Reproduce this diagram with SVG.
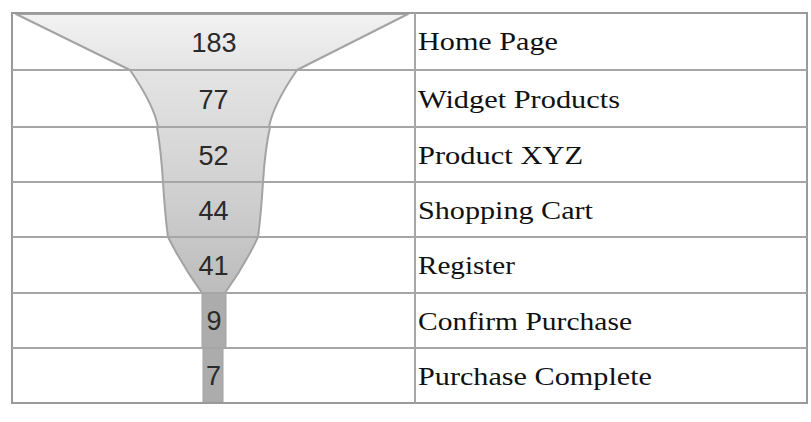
<svg xmlns="http://www.w3.org/2000/svg" width="811" height="422" viewBox="0 0 811 422">
<defs>
<linearGradient id="fg" gradientUnits="userSpaceOnUse" x1="0" y1="14" x2="0" y2="293">
<stop offset="0" stop-color="#f2f2f2"/>
<stop offset="0.2" stop-color="#e4e4e4"/>
<stop offset="0.6" stop-color="#d2d2d2"/>
<stop offset="1" stop-color="#bcbcbc"/>
</linearGradient>
<style>
.seg{fill:url(#fg);stroke:#a3a3a3;stroke-width:2;stroke-linejoin:round}
.bar{fill:#acacac;stroke:#a3a3a3;stroke-width:1}
.grid{stroke:#a6a6a6;stroke-width:2;fill:none}
.outer{stroke:#9a9a9a;stroke-width:2;fill:none}
.num{font-family:"Liberation Sans",Arial,sans-serif;font-size:27px;fill:#2a2a2a;text-anchor:middle}
.lbl{font-family:"Liberation Serif","Times New Roman",serif;font-size:25px;fill:#111}
</style>
</defs>
<rect x="0" y="0" width="811" height="422" fill="#ffffff"/>
<g id="funnel">
<path class="seg" d="M16,14 L408,14 L297,70 L130,70 Z"/>
<path class="seg" d="M130,70 L297,70 Q273,105 269,127 L158,127 Q154,105 130,70 Z"/>
<path class="seg" d="M157,127 L270,127 Q265,150 263,182 L163,182 Q161,150 157,127 Z"/>
<path class="seg" d="M163,182 L263,182 Q261,215 258,237 L168,237 Q165,215 163,182 Z"/>
<path class="seg" d="M168,237 L258,237 Q245,265 225,293 L202,293 Q182,265 168,237 Z"/>
<rect class="bar" x="202" y="293" width="24" height="55"/>
<rect class="bar" x="203" y="348" width="20" height="54"/>
</g>
<g id="connectors">
<rect class="outer" x="12" y="13" width="795" height="390"/>
<line class="grid" x1="415" y1="13" x2="415" y2="403"/>
<line class="grid" x1="12" y1="70" x2="807" y2="70"/>
<line class="grid" x1="12" y1="127" x2="807" y2="127"/>
<line class="grid" x1="12" y1="182" x2="807" y2="182"/>
<line class="grid" x1="12" y1="237" x2="807" y2="237"/>
<line class="grid" x1="12" y1="293" x2="807" y2="293"/>
<line class="grid" x1="12" y1="348" x2="807" y2="348"/>
</g>
<g id="row1"><text class="num" x="214" y="52">183</text><text class="lbl" x="418" y="50" textLength="140" lengthAdjust="spacingAndGlyphs">Home Page</text></g>
<g id="row2"><text class="num" x="213.5" y="109">77</text><text class="lbl" x="418" y="107.5" textLength="202" lengthAdjust="spacingAndGlyphs">Widget Products</text></g>
<g id="row3"><text class="num" x="213.5" y="165">52</text><text class="lbl" x="418" y="164" textLength="165" lengthAdjust="spacingAndGlyphs">Product XYZ</text></g>
<g id="row4"><text class="num" x="213.5" y="220">44</text><text class="lbl" x="418" y="219" textLength="175" lengthAdjust="spacingAndGlyphs">Shopping Cart</text></g>
<g id="row5"><text class="num" x="213.5" y="275">41</text><text class="lbl" x="418" y="274" textLength="97" lengthAdjust="spacingAndGlyphs">Register</text></g>
<g id="row6"><text class="num" x="214" y="330">9</text><text class="lbl" x="418" y="330" textLength="214" lengthAdjust="spacingAndGlyphs">Confirm Purchase</text></g>
<g id="row7"><text class="num" x="213.5" y="385">7</text><text class="lbl" x="418" y="385" textLength="234" lengthAdjust="spacingAndGlyphs">Purchase Complete</text></g>
</svg>
